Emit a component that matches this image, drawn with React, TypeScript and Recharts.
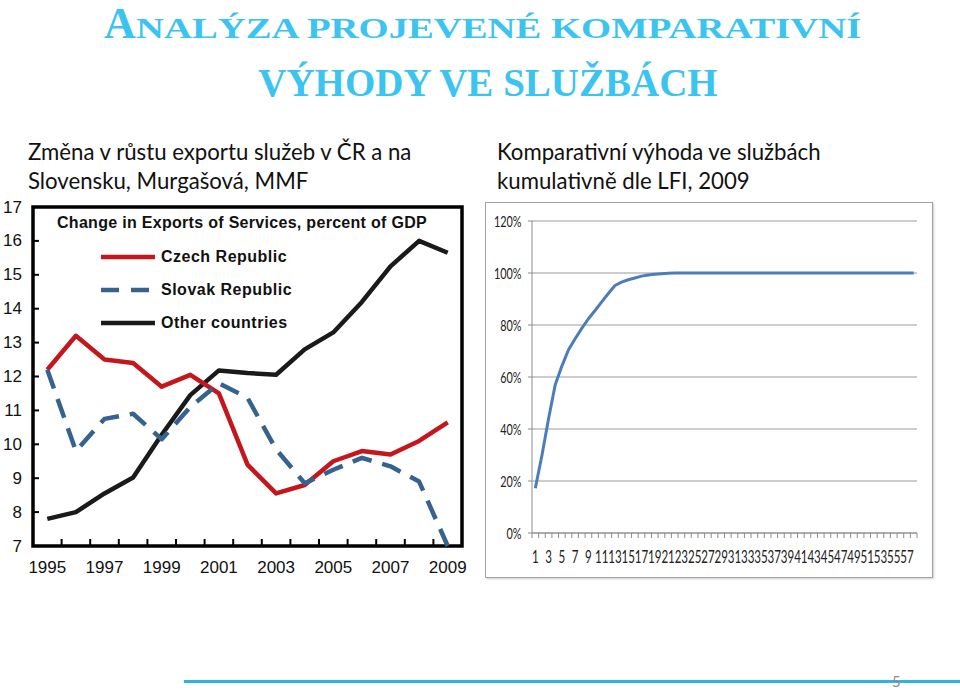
import React from "react";
import {
  LineChart,
  Line,
  XAxis,
  YAxis,
  CartesianGrid,
  ReferenceArea,
  Legend,
} from "recharts";

// left chart: change in exports of services, % of GDP
const years = [1995, 1996, 1997, 1998, 1999, 2000, 2001, 2002, 2003, 2004, 2005, 2006, 2007, 2008, 2009];
const czechRepublic = [12.2, 13.2, 12.5, 12.4, 11.7, 12.05, 11.5, 9.4, 8.55, 8.8, 9.5, 9.8, 9.7, 10.1, 10.65];
const slovakRepublic = [12.2, 9.8, 10.75, 10.9, 10.15, 11.1, 11.8, 11.37, 9.85, 8.85, 9.25, 9.6, 9.35, 8.9, 7.0];
const otherCountries = [7.8, 8.0, 8.55, 9.02, 10.28, 11.45, 12.18, 12.1, 12.05, 12.8, 13.3, 14.2, 15.25, 16.0, 15.65];
const yearLabels = [1995, 1997, 1999, 2001, 2003, 2005, 2007, 2009];
const gdpTicks = [7, 8, 9, 10, 11, 12, 13, 14, 15, 16, 17];

// right chart: cumulative comparative advantage (LFI), 2009
const lfiCumulative = [
  17.2, 29.9, 44, 57, 64.2, 70.5, 74.7, 78.7, 82.4, 85.6,
  88.9, 92.1, 95.2, 96.5, 97.4, 98.1, 98.8, 99.2, 99.5, 99.7,
  99.9, 100, 100, 100, 100, 100, 100, 100, 100, 100,
  100, 100, 100, 100, 100, 100, 100, 100, 100, 100,
  100, 100, 100, 100, 100, 100, 100, 100, 100, 100,
  100, 100, 100, 100, 100, 100, 100, 100,
];
const rankLabels = [1, 3, 5, 7, 9, 11, 13, 15, 17, 19, 21, 23, 25, 27, 29, 31, 33, 35, 37, 39, 41, 43, 45, 47, 49, 51, 53, 55, 57];
const pctTicks = [0, 20, 40, 60, 80, 100, 120];

const ARIAL = "'Liberation Sans', Arial, sans-serif";
const CALIBRI = "Lato, 'Open Sans', sans-serif";
const TIMES = "'Liberation Serif', 'Times New Roman', serif";

const servicesData = years.map((year, i) => ({
  year,
  czech: czechRepublic[i],
  slovak: slovakRepublic[i],
  other: otherCountries[i],
}));
const lfiData = lfiCumulative.map((cum, i) => ({ rank: i + 1, cum }));

// tick marks sit between categories, labels on categories (Excel style)
const yearTicks = [...yearLabels, ...years.slice(1).map((y) => y - 0.5)];
const rankTicks = [...rankLabels, 0.5, ...lfiCumulative.map((_, i) => i + 1.5)];

const seriesMeta = [
  { key: "czech", name: "Czech Republic", color: "#C4161C", dash: undefined },
  { key: "slovak", name: "Slovak Republic", color: "#35628F", dash: "18 12" },
  { key: "other", name: "Other countries", color: "#1A1A1A", dash: undefined },
];

const GdpTick = ({ x, y, payload }: any) => (
  <g>
    <line x1={x} y1={y} x2={x + 6} y2={y} stroke="#000" strokeWidth={2} />
    <text x={x - 11} y={y} textAnchor="end" dominantBaseline="central" fontSize={17} fontFamily={ARIAL} fill="#111">
      {payload.value}
    </text>
  </g>
);

const YearTick = ({ x, y, payload }: any) => {
  if (!Number.isInteger(payload.value)) {
    return <line x1={x} y1={y} x2={x} y2={y - 7} stroke="#000" strokeWidth={2} />;
  }
  return (
    <text x={x} y={y + 21} textAnchor="middle" dominantBaseline="central" fontSize={17} fontFamily={ARIAL} fill="#111">
      {payload.value}
    </text>
  );
};

const PctTick = ({ x, y, payload }: any) => (
  <text
    transform={`translate(${x},${y}) scale(0.7,1)`}
    textAnchor="end"
    dominantBaseline="central"
    fontSize={15.5}
    fontFamily={CALIBRI}
    fill="#222"
  >
    {payload.value}%
  </text>
);

const RankTick = ({ x, y, payload }: any) => {
  if (!Number.isInteger(payload.value)) {
    return <line x1={x} y1={y} x2={x} y2={y + 5} stroke="#8c8c8c" strokeWidth={1} />;
  }
  return (
    <text
      transform={`translate(${x},${y + 24}) scale(0.68,1)`}
      textAnchor="middle"
      dominantBaseline="central"
      fontSize={17}
      fontFamily={CALIBRI}
      fill="#222"
    >
      {payload.value}
    </text>
  );
};

const renderServicesLegend = () => (
  <div style={{ position: "relative", width: 480, height: 0, fontFamily: ARIAL, fontWeight: 700, color: "#111" }}>
    <div
      style={{
        position: "absolute",
        left: 0,
        top: 24,
        width: 484,
        textAlign: "center",
        fontSize: 16,
        letterSpacing: 0.3,
        lineHeight: "18px",
        whiteSpace: "nowrap",
      }}
    >
      Change in Exports of Services, percent of GDP
    </div>
    {seriesMeta.map((s, i) => (
      <div
        key={s.key}
        style={{
          position: "absolute",
          left: 99,
          top: 58 + i * 33,
          height: 18,
          display: "flex",
          alignItems: "center",
          whiteSpace: "nowrap",
          fontSize: 16,
          letterSpacing: 0.5,
        }}
      >
        <svg width={58} height={8}>
          <line x1={2} y1={4} x2={56} y2={4} stroke={s.color} strokeWidth={4.5} strokeDasharray={s.dash} />
        </svg>
        <span style={{ marginLeft: 4 }}>{s.name}</span>
      </div>
    ))}
  </div>
);

export default function App() {
  return (
    <div style={{ position: "absolute", left: 0, top: 0, width: 960, height: 691, background: "#fff", overflow: "hidden" }}>
      {/* slide title, first line in stretched small caps */}
      <div
        style={{
          position: "absolute",
          left: 104,
          top: 2,
          fontFamily: TIMES,
          fontWeight: 700,
          color: "#3BC4F0",
          whiteSpace: "nowrap",
          lineHeight: "44px",
          height: 44,
        }}
      >
        <span style={{ fontSize: 44 }}>A</span>
        <span
          style={{
            display: "inline-block",
            fontSize: 30,
            transform: "scaleX(1.29)",
            transformOrigin: "left center",
          }}
        >
          NALÝZA PROJEVENÉ KOMPARATIVNÍ
        </span>
      </div>
      <div
        style={{
          position: "absolute",
          left: 0,
          top: 59,
          width: 976,
          textAlign: "center",
          fontFamily: TIMES,
          fontWeight: 700,
          color: "#3BC4F0",
          whiteSpace: "nowrap",
          fontSize: 39,
          lineHeight: "48px",
        }}
      >
        VÝHODY VE SLUŽBÁCH
      </div>

      {/* subtitles */}
      <div style={{ position: "absolute", left: 28, top: 137, fontFamily: CALIBRI, fontSize: 22.2, lineHeight: "29px", color: "#111" }}>
        Změna v růstu exportu služeb v ČR a na
        <br />
        Slovensku, Murgašová, MMF
      </div>
      <div style={{ position: "absolute", left: 497, top: 137, fontFamily: CALIBRI, fontSize: 22.2, lineHeight: "29px", color: "#111" }}>
        Komparativní výhoda ve službách
        <br />
        kumulativně dle LFI, 2009
      </div>

      {/* left chart */}
      <div style={{ position: "absolute", left: 0, top: 190 }}>
        <LineChart width={480} height={400} data={servicesData} margin={{ top: 17, right: 18, bottom: 0, left: 0 }}>
          <XAxis
            dataKey="year"
            type="number"
            domain={[1994.5, 2009.5]}
            ticks={yearTicks}
            interval={0}
            height={44}
            axisLine={false}
            tickLine={false}
            tickSize={0}
            tickMargin={0}
            tick={<YearTick />}
          />
          <YAxis
            type="number"
            domain={[7, 17]}
            ticks={gdpTicks}
            interval={0}
            width={33}
            axisLine={false}
            tickLine={false}
            tickSize={0}
            tickMargin={0}
            tick={<GdpTick />}
          />
          <ReferenceArea
            x1={1994.5}
            x2={2009.5}
            y1={7}
            y2={17}
            fill="none"
            fillOpacity={0}
            stroke="#000"
            strokeWidth={3.5}
            ifOverflow="visible"
          />
          <Legend
            content={renderServicesLegend}
            layout="vertical"
            align="center"
            verticalAlign="middle"
            wrapperStyle={{ left: 0, top: 0, width: 480 }}
          />
          <Line
            dataKey="other"
            name="Other countries"
            stroke="#1A1A1A"
            strokeWidth={4.5}
            strokeLinejoin="round"
            dot={false}
            isAnimationActive={false}
          />
          <Line
            dataKey="czech"
            name="Czech Republic"
            stroke="#C4161C"
            strokeWidth={4.5}
            strokeLinejoin="round"
            dot={false}
            isAnimationActive={false}
          />
          <Line
            dataKey="slovak"
            name="Slovak Republic"
            stroke="#35628F"
            strokeWidth={4.5}
            strokeDasharray="20 11"
            strokeLinejoin="round"
            dot={false}
            isAnimationActive={false}
          />
        </LineChart>
      </div>

      {/* right chart */}
      <div
        style={{
          position: "absolute",
          left: 485,
          top: 202,
          width: 446,
          height: 374,
          border: "1px solid #a3a3a3",
          boxShadow: "1px 1px 2px rgba(0,0,0,0.2)",
          background: "#fff",
        }}
      >
        <LineChart width={446} height={374} data={lfiData} margin={{ top: 18, right: 15, bottom: 0, left: 0 }}>
          <CartesianGrid vertical={false} stroke="#9a9a9a" strokeWidth={1} />
          <XAxis
            dataKey="rank"
            type="number"
            domain={[0.5, 58.5]}
            ticks={rankTicks}
            interval={0}
            height={44}
            axisLine={{ stroke: "#8c8c8c" }}
            tickLine={false}
            tickSize={0}
            tickMargin={0}
            tick={<RankTick />}
          />
          <YAxis
            type="number"
            domain={[0, 120]}
            ticks={pctTicks}
            interval={0}
            width={46}
            axisLine={{ stroke: "#8c8c8c" }}
            tickLine={{ stroke: "#8c8c8c" }}
            tickSize={4}
            tickMargin={6.5}
            tick={<PctTick />}
          />
          <Line
            dataKey="cum"
            stroke="#4A7DBA"
            strokeWidth={3}
            strokeLinejoin="round"
            dot={false}
            isAnimationActive={false}
          />
        </LineChart>
      </div>

      {/* footer rule and page number */}
      <div style={{ position: "absolute", left: 184, top: 680, width: 776, height: 3, background: "#2FB2E4" }} />
      <div style={{ position: "absolute", left: 892, top: 672, fontFamily: CALIBRI, fontSize: 15, lineHeight: "18px", color: "#8e8e8e" }}>
        5
      </div>
    </div>
  );
}
